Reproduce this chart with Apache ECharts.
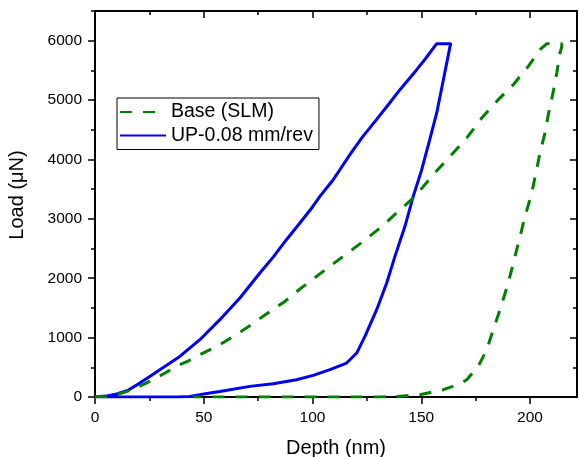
<!DOCTYPE html>
<html>
<head>
<meta charset="utf-8">
<script src="https://cdn.jsdelivr.net/npm/echarts@6/dist/echarts.min.js"></script>
<style>
html,body{margin:0;padding:0;background:#fff;}
#chart{width:579px;height:457px;}
</style>
</head>
<body>
<div id="chart"></div>
<script>
// ---- data ----
const seriesNames = ['Base (SLM)', 'UP-0.08 mm/rev'];

const baseDepth = [0, 5, 10, 14.4, 20, 26.7, 32, 37.4, 43, 48.2, 57.4, 67.3, 77.3, 87.3, 94.2, 104.9, 114.1, 123.3, 131, 140.2, 147.1, 155.5, 163.2, 170.9, 177.8, 185.4, 192.3, 199.2, 204.6, 207.7, 214.6,
  214.6, 213.8, 212.3, 210.4, 208.4, 206.9, 204.6, 202.7, 200.8, 197.7, 196.2, 193.1, 190, 186.2, 183.1, 180.1, 176.2, 170.9, 167.8, 160.1, 149.4, 138.7, 131, 90, 45];
const baseLoad = [0, 10, 40, 90, 170, 291, 400, 516, 610, 712, 880, 1105, 1358, 1610, 1819, 2116, 2368, 2621, 2846, 3150, 3379, 3744, 4052, 4362, 4698, 5007, 5259, 5568, 5849, 5950, 5950,
  5900, 5793, 5456, 5091, 4754, 4446, 4109, 3772, 3435, 3041, 2817, 2368, 1920, 1470, 1133, 797, 516, 291, 224, 123, 39, 10, 0, 0, 0];

const upDepth = [0, 5, 10, 15, 20.6, 25, 29.8, 39, 48.2, 57.4, 66.6, 75.8, 82, 88, 94.2, 100, 103.4, 109.5, 117.2, 123, 129.4, 135, 140.2, 147.9, 152, 157.1, 163.6,
  163.2, 160.1, 157.1, 153.9, 150.2, 146.3, 142.5, 137.9, 134.1, 129.5, 124.1, 120.3, 115.7, 108, 100.3, 92.6, 81.9, 71.2, 57.4, 50, 43.6, 38, 2];
const upLoad = [0, 15, 50, 110, 234, 340, 460, 684, 965, 1302, 1667, 2088, 2360, 2649, 2930, 3200, 3379, 3659, 4081, 4380, 4670, 4930, 5175, 5512, 5700, 5950, 5950,
  5900, 5330, 4783, 4333, 3828, 3379, 2874, 2368, 1920, 1470, 1021, 740, 572, 460, 364, 291, 224, 179, 94, 50, 10, 0, 0];

const xTicks = [0, 50, 100, 150, 200];
const xMinorTicks = [25, 75, 125, 175];
const yTicks = [0, 1000, 2000, 3000, 4000, 5000, 6000];
const yMinorTicks = [500, 1500, 2500, 3500, 4500, 5500, 6500];

const xName = 'Depth (nm)';
const yName = 'Load (μN)';
// --------------------------------------

const FONT = '"Liberation Sans", Arial, sans-serif';
const zip = (a, b) => a.map((v, i) => [v, b[i]]);

const X_MIN = 0, X_MAX = 221.6, Y_MIN = 0, Y_MAX = 6500;

function xAxisDef(pos, ticks, len, inside, labels) {
  return {
    type: 'value', position: pos, min: X_MIN, max: X_MAX,
    axisLine: { show: true, onZero: false, lineStyle: { color: '#000', width: 2 } },
    axisTick: { show: true, inside: inside, length: len, customValues: ticks, lineStyle: { color: '#000', width: 1.5 } },
    axisLabel: labels ? { show: true, customValues: xTicks, margin: 13, color: '#000', fontSize: 15.5, fontFamily: FONT, formatter: v => String(v) } : { show: false },
    splitLine: { show: false },
    name: labels ? xName : '',
    nameLocation: 'middle', nameGap: 41,
    nameTextStyle: { color: '#000', fontSize: 20, fontFamily: FONT }
  };
}
function yAxisDef(pos, ticks, len, inside, labels) {
  return {
    type: 'value', position: pos, min: Y_MIN, max: Y_MAX,
    axisLine: { show: true, onZero: false, lineStyle: { color: '#000', width: 2 } },
    axisTick: { show: true, inside: inside, length: len, customValues: ticks, lineStyle: { color: '#000', width: 1.5 } },
    axisLabel: labels ? { show: true, customValues: yTicks, margin: 13, color: '#000', fontSize: 15.5, fontFamily: FONT, formatter: v => String(v) } : { show: false },
    splitLine: { show: false },
    name: labels ? yName : '',
    nameLocation: 'middle', nameGap: 68, nameRotate: 90,
    nameTextStyle: { color: '#000', fontSize: 20, fontFamily: FONT, padding: [0, 0, 0, 18] }
  };
}

const chart = echarts.init(document.getElementById('chart'), null, { renderer: 'canvas' });
chart.setOption({
  animation: false,
  backgroundColor: '#fff',
  grid: { left: 95, top: 11, width: 482, height: 386, containLabel: false, outerBoundsMode: 'none' },
  xAxis: [
    xAxisDef('bottom', xTicks, 7, false, true),
    xAxisDef('bottom', xMinorTicks, 4, false, false),
    xAxisDef('top', xTicks, 7, true, false),
    xAxisDef('top', xMinorTicks, 4, true, false)
  ],
  yAxis: [
    yAxisDef('left', yTicks, 7, false, true),
    yAxisDef('left', yMinorTicks, 4, false, false),
    yAxisDef('right', yTicks, 7, true, false),
    yAxisDef('right', yMinorTicks, 4, true, false)
  ],
  legend: {
    orient: 'vertical', left: 117, top: 98,
    backgroundColor: '#fff', borderColor: '#000', borderWidth: 1, borderRadius: 0,
    padding: [4, 6, 4, 2], itemGap: 3.5, itemWidth: 46, itemHeight: 14,
    itemStyle: { opacity: 0 },
    textStyle: { color: '#000', fontSize: 19.5, fontFamily: FONT, lineHeight: 20 },
    data: seriesNames
  },
  series: [
    {
      name: seriesNames[0], type: 'line', xAxisIndex: 0, yAxisIndex: 0,
      data: zip(baseDepth, baseLoad), showSymbol: false, symbol: 'none', smooth: false,
      lineStyle: { color: '#008000', width: 3, type: [12, 11] },
      itemStyle: { color: '#008000' }, z: 3
    },
    {
      name: seriesNames[1], type: 'line', xAxisIndex: 0, yAxisIndex: 0,
      data: zip(upDepth, upLoad), showSymbol: false, symbol: 'none', smooth: false,
      lineStyle: { color: '#0000FF', width: 3, type: 'solid' },
      itemStyle: { color: '#0000FF' }, z: 2
    }
  ]
});
</script>
</body>
</html>
